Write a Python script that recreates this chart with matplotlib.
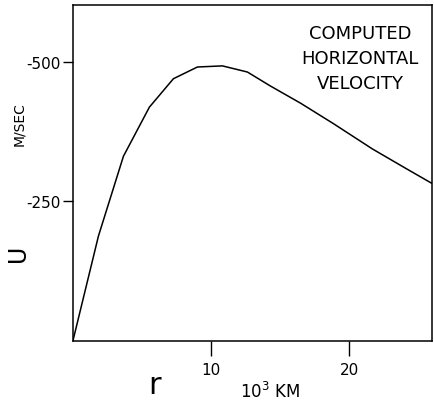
import matplotlib
matplotlib.use("Agg")
import matplotlib.pyplot as plt

# distance r (10^3 km) and computed horizontal velocity U (m/s)
r_km = [0, 1.85, 3.66, 5.54, 7.28, 9.02, 10.83, 12.64, 14.3, 16.5, 18.9, 21.7, 24.2, 26.1]
u_ms = [0, -188, -331, -419, -470, -491, -493, -482, -457, -426, -389, -344, -308, -281]

xticks = [10, 20]
yticks = [-500, -250]
ytick_labels = ["-500", "-250"]

fig = plt.figure(figsize=(4.34, 4.06), dpi=100)
ax = fig.add_axes([0.168, 0.158, 0.827, 0.827])

ax.plot(r_km, u_ms, color="black", linewidth=1.1, clip_on=True)

ax.set_xlim(0, 26)
ax.set_ylim(0, -602)   # negative velocities upward

ax.set_xticks(xticks)
ax.set_xticklabels([str(t) for t in xticks], fontsize=11)
ax.set_yticks(yticks)
ax.set_yticklabels(ytick_labels, fontsize=11)
ax.tick_params(axis="x", direction="out", length=11, width=1, pad=4)
ax.tick_params(axis="y", direction="out", length=7, width=1, pad=2)
for s in ax.spines.values():
    s.set_linewidth(1.1)

# axis labels in the old plotter style
fig.text(0.042, 0.377, "U", rotation=90, fontsize=17, ha="center", va="center")
fig.text(0.044, 0.695, "M/SEC", rotation=90, fontsize=10, ha="center", va="center")
fig.text(0.355, 0.05, "r", fontsize=22, ha="center", va="center")
fig.text(0.622, 0.035, "10$^3$ KM", fontsize=12, ha="center", va="center")

ax.text(0.80, 0.945, "COMPUTED\nHORIZONTAL\nVELOCITY", transform=ax.transAxes,
        fontsize=13, ha="center", va="top", linespacing=1.5)

fig.savefig("out.png", dpi=100)
